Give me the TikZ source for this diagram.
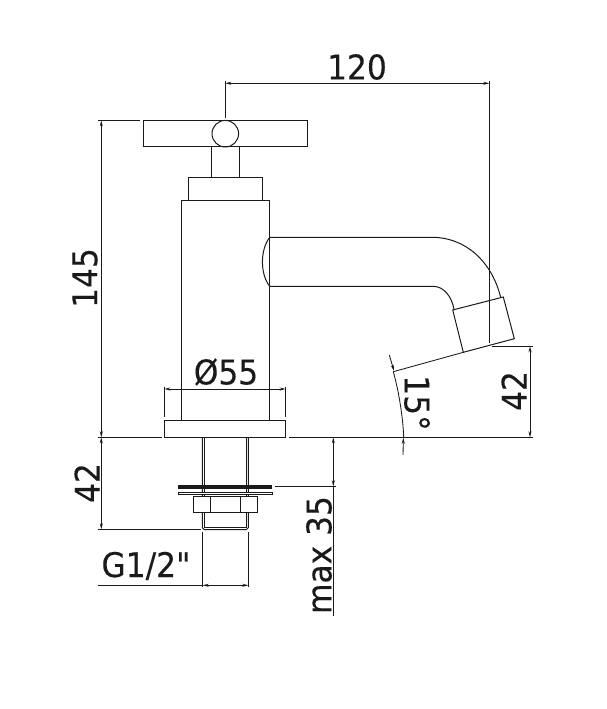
\documentclass[tikz,border=0pt]{standalone}
\usepackage{fontspec}
\newfontfamily\dimfont{DejaVu Sans}[FakeStretch=0.92,FakeBold=0.25]
\usetikzlibrary{arrows.meta}
\definecolor{ink}{HTML}{1A1A1A}
\tikzset{
  part/.style={draw=ink,line width=1pt,fill=white},
  edge/.style={draw=ink,line width=1pt},
  dimline/.style={draw=ink,line width=0.85pt},
  dimboth/.style={dimline,{Stealth[length=6pt,width=3pt]}-{Stealth[length=6pt,width=3pt]}},
  dimend/.style={dimline,-{Stealth[length=6pt,width=3pt]}},
  lbl/.style={inner sep=0pt,text=ink,font=\dimfont\fontsize{34}{34}\selectfont},
}
\begin{document}
\begin{tikzpicture}[x=1pt,y=-1pt]
\useasboundingbox (0,0) rectangle (607,709);
\fill[white] (0,0) rectangle (607,709);
% tap body
\draw[part] (181.3,200.3) rectangle (269.7,420.3);
\draw[part] (188.3,177.3) rectangle (262.7,200.3);
\draw[part] (211.3,146.7) rectangle (239.7,177.3);
\draw[part] (143.3,120.3) rectangle (307.7,146.7);
\node[circle,draw=ink,line width=1pt,minimum size=26.6pt,inner sep=0pt] (knob) at (225.3,133.7) {};
% spout
\draw[edge] (269.7,237.3) .. controls (260,250) and (260,274) .. (269.7,286.3);
\draw[edge] (269.7,237.3) -- (431.7,237.3) .. controls (466,237.3) and (492,262) .. (500.7,297.5);
\draw[edge] (269.7,286.3) -- (433,286.3) .. controls (444,286.3) and (452,297) .. (454,309.5);
\draw[part] (452.7,310) -- (503.3,297) -- (514.3,338.7) -- (463.3,352.3) -- cycle;
% base
\draw[part] (164.3,420.3) rectangle (285.7,437.3);
% pipe
\draw[edge] (202.3,437.3) -- (202.3,527.7) -- (204.3,529.7) -- (246.3,529.7) -- (248.3,527.7) -- (248.3,437.3);
\draw[edge,line width=0.7pt] (204.4,437.3) -- (204.4,527.7) -- (246.1,527.7) -- (246.1,437.3);
% washers and nut
\fill[ink] (178,485) rectangle (272.3,488.7);
\draw[part,line width=0.7pt] (178,492.3) rectangle (272.3,494.4);
\draw[part] (193.3,496.3) rectangle (257.3,512.3);
\draw[edge] (210.3,496.3) -- (210.3,512.3) (240.3,496.3) -- (240.3,512.3);
% extension lines
\draw[dimline] (225.3,81.3) -- (225.3,117.7);
\draw[dimline] (489.3,81.3) -- (489.3,342.7);
\draw[dimline] (98.3,120.3) -- (140,120.3);
\draw[dimline] (98.3,437.3) -- (161.7,437.3);
\draw[dimline] (288.7,437.3) -- (532.7,437.3);
\draw[dimline] (491.7,346.3) -- (532.7,346.3);
\draw[dimline] (98.3,529.3) -- (201,529.3);
\draw[dimline] (164.3,386.7) -- (164.3,417.3);
\draw[dimline] (285.7,386.7) -- (285.7,417.3);
\draw[dimline] (202.7,531.7) -- (202.7,586.7);
\draw[dimline] (248.3,531.7) -- (248.3,586.7);
\draw[dimline] (97.7,585.3) -- (202.7,585.3);
\draw[dimline] (275,486.3) -- (335.7,486.3);
\draw[dimline] (463.3,352.3) -- (393.3,371.7);
% dimensions
\draw[dimboth] (225.3,83.3) -- (489.3,83.3);
\draw[dimboth] (101.3,120.3) -- (101.3,437.3);
\draw[dimboth] (101.3,437.3) -- (101.3,529.3);
\draw[dimboth] (530,346.3) -- (530,437.3);
\draw[dimboth] (164.3,389) -- (285.7,389);
\draw[dimboth] (202.7,585.3) -- (248.3,585.3);
\draw[dimboth] (333.3,437.3) -- (333.3,486.3);
\draw[dimline] (333.3,486.3) -- (333.3,616);
% angle
\draw[dimline] (393.3,371.7) .. controls (398.5,390) and (403,417) .. (403.7,437.3);
\draw[dimend] (389.3,355) -- (394,371);
\draw[dimend] (403,455) -- (403.4,437.8);
% labels
\node[lbl] (t120) at (357,67) {120};
\node[lbl,rotate=90] (t145) at (85,278) {145};
\node[lbl] (tphi) at (226,372) {Ø55};
\node[lbl,rotate=-90] (t15) at (417,403) {15°};
\node[lbl,rotate=90] (t42r) at (514,391) {42};
\node[lbl,rotate=90] (t42l) at (87,483) {42};
\node[lbl] (tg) at (146,566) {G1/2"};
\node[lbl,rotate=90] (tmax) at (319,555) {max 35};
\end{tikzpicture}
\end{document}
